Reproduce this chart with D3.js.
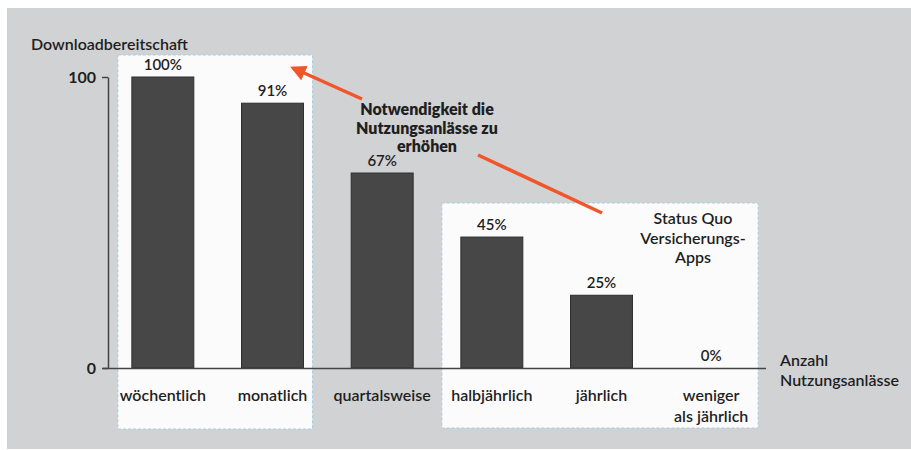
<!DOCTYPE html>
<html><head><meta charset="utf-8">
<script src="https://cdn.jsdelivr.net/npm/d3@7"></script>
<style>body{margin:0;background:#fff}svg{display:block}text{font-family:Lato,"Open Sans",sans-serif;fill:#1f1f1f}</style>
</head><body>
<svg id="c" width="911" height="450"></svg>
<script>
const categories = ["wöchentlich","monatlich","quartalsweise","halbjährlich","jährlich","weniger als jährlich"];
const values = [100, 91, 67, 45, 25, 0];
const valueLabels = ["100%","91%","67%","45%","25%","0%"];
const yTicks = [0, 100];
const yTitle = "Downloadbereitschaft";
const xTitle = ["Anzahl","Nutzungsanlässe"];
const noteText = ["Notwendigkeit die","Nutzungsanlässe zu","erhöhen"];
const statusText = ["Status Quo","Versicherungs-","Apps"];

const svg = d3.select("#c");
svg.append("rect").attr("x",7).attr("y",8).attr("width",904).attr("height",441).attr("fill","#d1d2d4");

const x = d3.scaleBand().domain(categories).range([108, 766]).paddingInner(0.435).paddingOuter(0.2175);
const y = d3.scaleLinear().domain([0,100]).range([368, 77]);

// highlight boxes
function box(c0, c1, padL, padR, yTop, yBot){
  const x0 = x(c0) - padL, x1 = x(c1) + x.bandwidth() + padR;
  svg.append("rect").attr("x",x0).attr("y",yTop).attr("width",x1-x0).attr("height",yBot-yTop)
    .attr("fill","#fbfbfb").attr("stroke","#a9cde3").attr("stroke-width",1).attr("stroke-dasharray","3,2");
}
box(categories[0], categories[1], 14, 9, 55, 429);
box(categories[3], categories[5], 19, 16, 203, 428);

// bars
svg.selectAll(".bar").data(values).enter().append("rect")
  .attr("x",(d,i)=>x(categories[i])).attr("y",d=>y(d))
  .attr("width",x.bandwidth()).attr("height",d=>y(0)-y(d))
  .attr("fill","#474747").attr("stroke","#2e2e2e").attr("stroke-width",1);

// value labels
svg.selectAll(".vl").data(values).enter().append("text")
  .attr("x",(d,i)=>x(categories[i])+x.bandwidth()/2).attr("y",d=>y(d)-7)
  .attr("text-anchor","middle").attr("font-size",15).attr("font-weight",600)
  .text((d,i)=>valueLabels[i]);

// y axis
const yAxis = d3.axisLeft(y).tickValues(yTicks).tickSize(6).tickSizeOuter(0).tickPadding(6);
const ga = svg.append("g").attr("transform","translate(108,0)").call(yAxis);
ga.select(".domain").attr("stroke","#444").attr("stroke-width",1.5);
ga.selectAll(".tick line").attr("stroke","#444").attr("stroke-width",1.5);
ga.selectAll(".tick text").attr("font-size",16).attr("font-family","Lato").attr("fill","#1f1f1f").attr("font-weight",700);

// x axis line
const xAxis = d3.axisBottom(x).tickSize(0).tickFormat("");
const gx = svg.append("g").attr("transform","translate(0,368)").call(xAxis);
gx.select(".domain").attr("stroke","#444").attr("stroke-width",1.5).attr("d","M103,0.5H766");

// category labels
categories.forEach((c,i)=>{
  const cx = x(c)+x.bandwidth()/2;
  const words = c === "weniger als jährlich" ? ["weniger","als jährlich"] : [c];
  words.forEach((w,j)=>{
    svg.append("text").attr("x",cx).attr("y",401+j*21).attr("text-anchor","middle")
      .attr("font-size",16).attr("font-weight",600).text(w);
  });
});

// titles
svg.append("text").attr("x",31).attr("y",50).attr("font-size",16).attr("font-weight",600).text(yTitle);
xTitle.forEach((t,j)=>svg.append("text").attr("x",780).attr("y",366+j*20).attr("font-size",16).attr("font-weight",600).text(t));
statusText.forEach((t,j)=>svg.append("text").attr("x",693).attr("y",224+j*19.5).attr("text-anchor","middle").attr("font-size",16).attr("font-weight",600).text(t));
noteText.forEach((t,j)=>svg.append("text").attr("x",427).attr("y",115+j*18.5).attr("text-anchor","middle").attr("font-size",16).attr("font-weight",800).text(t));

// arrows
svg.append("defs").append("marker").attr("id","ah").attr("viewBox","0 0 10 10").attr("refX",8).attr("refY",5)
  .attr("markerWidth",4.5).attr("markerHeight",4.5).attr("orient","auto")
  .append("path").attr("d","M0,0L10,5L0,10z").attr("fill","#f0562a");
svg.append("line").attr("x1",362).attr("y1",99).attr("x2",293).attr("y2",68)
  .attr("stroke","#f0562a").attr("stroke-width",3.5).attr("marker-end","url(#ah)");
svg.append("line").attr("x1",478).attr("y1",155).attr("x2",602).attr("y2",213)
  .attr("stroke","#f0562a").attr("stroke-width",3.5);
</script>
</body></html>
